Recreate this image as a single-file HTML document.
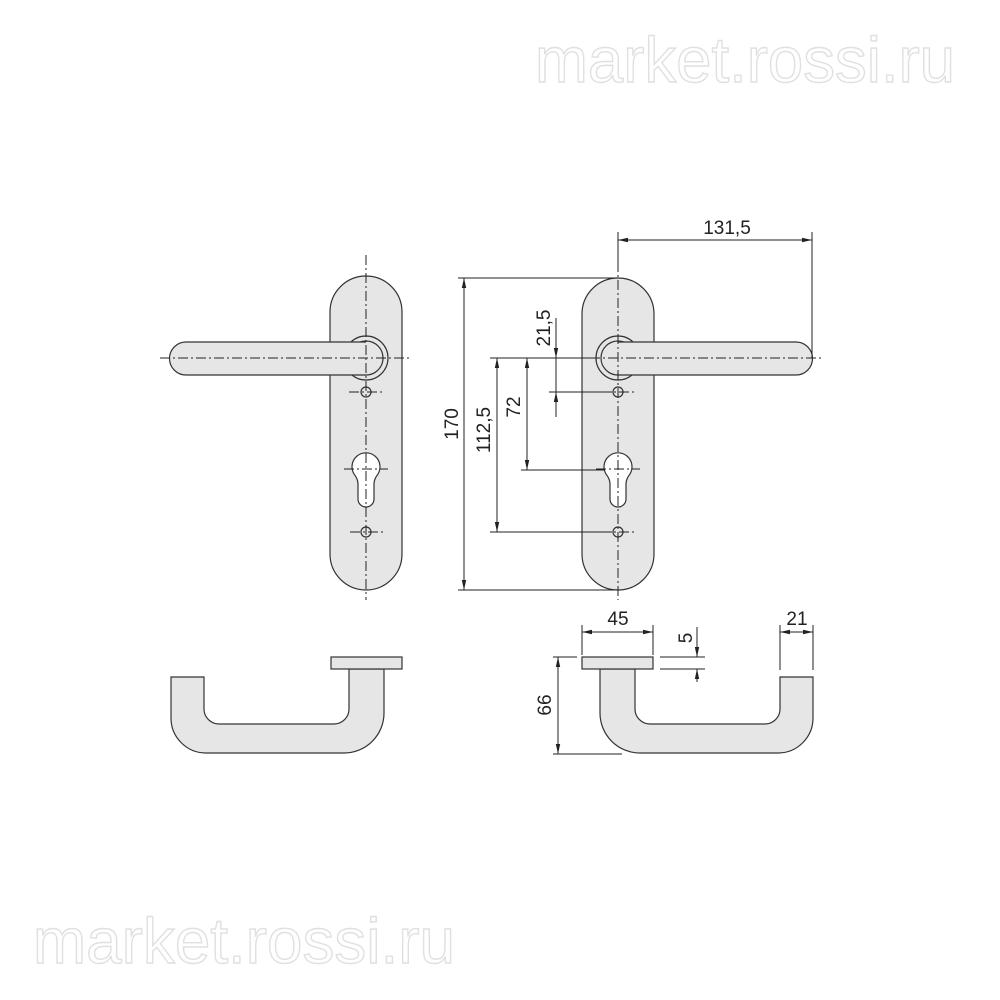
<!DOCTYPE html>
<html><head><meta charset="utf-8"><style>html,body{margin:0;padding:0;background:#fff}svg{display:block}</style></head>
<body>
<svg width="1000" height="1000" viewBox="0 0 1000 1000" xmlns="http://www.w3.org/2000/svg">
<defs>
<marker id="a" markerWidth="10" markerHeight="6" refX="10" refY="3" orient="auto-start-reverse" markerUnits="userSpaceOnUse"><path d="M0,0.8 L10,3 L0,5.2 z" fill="#222"/></marker>
</defs>
<g font-family="Liberation Sans, sans-serif" font-size="64" fill="#fff" stroke="#e0e0e0" stroke-width="1.4">
<text x="535" y="82" textLength="420" lengthAdjust="spacingAndGlyphs">market.rossi.ru</text>
<text x="33" y="963" textLength="422" lengthAdjust="spacingAndGlyphs">market.rossi.ru</text>
</g>
<!-- left plate -->
<g stroke="#333" stroke-width="1.2" fill="#e6e6e6">
<rect x="330" y="276" width="72" height="314" rx="36"/>
<circle cx="366" cy="358" r="22"/>
<circle cx="366" cy="358" r="17"/>
<path d="M366,342 H186 A16.5,16.5 0 0 0 186,375 H366"/>
<path d="M354,474 A14,14 0 1 1 378,474 Q374,479 374,484 V499 A8,8 0 0 1 358,499 V484 Q358,479 354,474 Z" fill="#fff"/>
<circle cx="366" cy="392" r="5" fill="none"/>
<circle cx="366" cy="532" r="5" fill="none"/>
</g>
<!-- right plate -->
<g stroke="#333" stroke-width="1.2" fill="#e6e6e6">
<rect x="582" y="278" width="72" height="312" rx="36"/>
<circle cx="618" cy="358" r="22"/>
<circle cx="618" cy="358" r="17"/>
<path d="M618,342 H796 A16.5,16.5 0 0 1 796,375 H618"/>
<path d="M606,474 A14,14 0 1 1 630,474 Q626,479 626,484 V499 A8,8 0 0 1 610,499 V484 Q610,479 606,474 Z" fill="#fff"/>
<circle cx="618" cy="392" r="5" fill="none"/>
<circle cx="618" cy="532" r="5" fill="none"/>
</g>
<!-- centerlines -->
<g stroke="#222" stroke-width="1" stroke-dasharray="10,3,2,3" fill="none">
<line x1="366" y1="255" x2="366" y2="600"/>
<line x1="160" y1="358" x2="410" y2="358"/>
<line x1="618" y1="262" x2="618" y2="600"/>
<line x1="590" y1="358" x2="822" y2="358"/>
<line x1="349" y1="392" x2="383" y2="392"/>
<line x1="350" y1="532" x2="383" y2="532"/>
<line x1="344" y1="469" x2="388" y2="469"/>
<line x1="601" y1="392" x2="635" y2="392"/>
<line x1="601" y1="532" x2="635" y2="532"/>
<line x1="596" y1="469" x2="640" y2="469"/>
</g>
<!-- bottom handles -->
<g stroke="#333" stroke-width="1.2" fill="#e6e6e6">
<g id="h">
<path d="M600,669 H635 V709 A15,15 0 0 0 650,724 H765 A15,15 0 0 0 780,709 V677 H813 V718 A35,35 0 0 1 778,753 H640 A40,40 0 0 1 600,713 Z"/>
<rect x="582" y="657" width="71" height="12"/>
</g>
<use href="#h" transform="translate(984,0) scale(-1,1)"/>
</g>
<!-- dimension lines -->
<g stroke="#222" stroke-width="1" fill="none">
<line x1="618" y1="232" x2="618" y2="262"/>
<line x1="812" y1="232" x2="812" y2="358"/>
<line x1="618" y1="240" x2="812" y2="240" marker-start="url(#a)" marker-end="url(#a)"/>
<line x1="458" y1="278" x2="618" y2="278"/>
<line x1="458" y1="590" x2="618" y2="590"/>
<line x1="464" y1="278" x2="464" y2="590" marker-start="url(#a)" marker-end="url(#a)"/>
<line x1="490" y1="358" x2="590" y2="358"/>
<line x1="490" y1="532" x2="612" y2="532"/>
<line x1="497" y1="358" x2="497" y2="532" marker-start="url(#a)" marker-end="url(#a)"/>
<line x1="521" y1="470" x2="605" y2="470"/>
<line x1="527" y1="358" x2="527" y2="470" marker-start="url(#a)" marker-end="url(#a)"/>
<line x1="549" y1="392" x2="612" y2="392"/>
<line x1="556" y1="318" x2="556" y2="358" marker-end="url(#a)"/>
<line x1="556" y1="417" x2="556" y2="392" marker-end="url(#a)"/>
<line x1="556" y1="358" x2="556" y2="392"/>
<line x1="582" y1="625" x2="582" y2="655"/>
<line x1="653" y1="625" x2="653" y2="655"/>
<line x1="582" y1="632" x2="653" y2="632" marker-start="url(#a)" marker-end="url(#a)"/>
<line x1="660" y1="657" x2="705" y2="657"/>
<line x1="660" y1="669" x2="705" y2="669"/>
<line x1="697" y1="627" x2="697" y2="657" marker-end="url(#a)"/>
<line x1="697" y1="682" x2="697" y2="669" marker-end="url(#a)"/>
<line x1="780" y1="625" x2="780" y2="670"/>
<line x1="813" y1="625" x2="813" y2="670"/>
<line x1="780" y1="632" x2="813" y2="632" marker-start="url(#a)" marker-end="url(#a)"/>
<line x1="553" y1="657" x2="577" y2="657"/>
<line x1="553" y1="754" x2="622" y2="754"/>
<line x1="558" y1="657" x2="558" y2="754" marker-start="url(#a)" marker-end="url(#a)"/>
</g>
<g font-family="Liberation Sans, sans-serif" font-size="19" fill="#222" text-anchor="middle">
<text x="727" y="234">131,5</text>
<text x="618" y="625">45</text>
<text x="797" y="625">21</text>
<text transform="translate(458,424) rotate(-90)">170</text>
<text transform="translate(490,430) rotate(-90)">112,5</text>
<text transform="translate(520,407) rotate(-90)">72</text>
<text transform="translate(550,328) rotate(-90)">21,5</text>
<text transform="translate(692,638) rotate(-90)">5</text>
<text transform="translate(551,705) rotate(-90)">66</text>
</g>
</svg>
</body></html>
